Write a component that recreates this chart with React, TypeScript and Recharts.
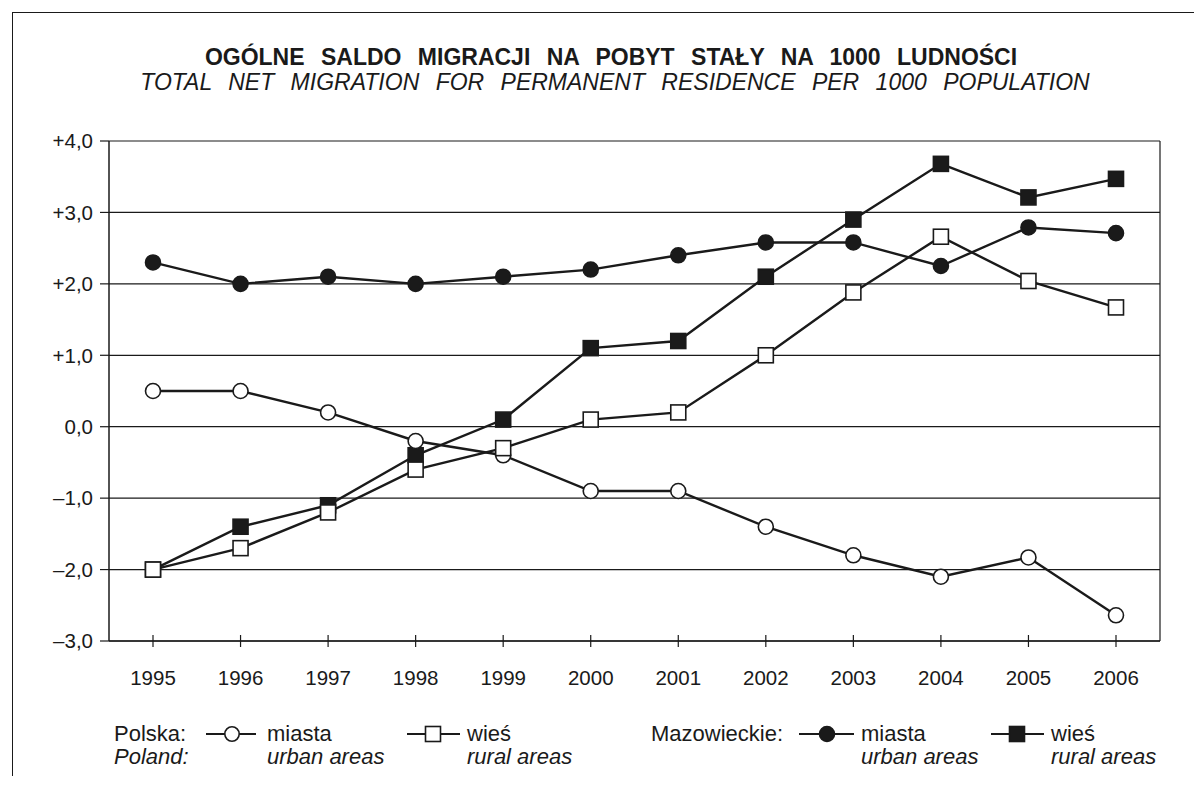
import React from "react"
import {
  LineChart,
  Line,
  XAxis,
  YAxis,
  CartesianGrid
} from "recharts"

const years = ["1995", "1996", "1997", "1998", "1999", "2000", "2001", "2002", "2003", "2004", "2005", "2006"]

// Polska
const polskaMiasta = [0.5, 0.5, 0.2, -0.2, -0.4, -0.9, -0.9, -1.4, -1.8, -2.1, -1.83, -2.64]
const polskaWies = [-2.0, -1.7, -1.2, -0.6, -0.3, 0.1, 0.2, 1.0, 1.88, 2.66, 2.04, 1.67]

// Mazowieckie
const mazMiasta = [2.3, 2.0, 2.1, 2.0, 2.1, 2.2, 2.4, 2.58, 2.58, 2.25, 2.79, 2.71]
const mazWies = [-2.0, -1.4, -1.1, -0.4, 0.1, 1.1, 1.2, 2.1, 2.9, 3.68, 3.21, 3.47]

const yTicks = [-3, -2, -1, 0, 1, 2, 3, 4]

const FONT = "'Liberation Sans', Arial, sans-serif"
const INK = "#1a1a1a"

const data = years.map((year, i) => ({
  year,
  polskaMiasta: polskaMiasta[i],
  polskaWies: polskaWies[i],
  mazMiasta: mazMiasta[i],
  mazWies: mazWies[i],
}))

function fmtY(v: number) {
  const s = Math.abs(v).toFixed(1).replace(".", ",")
  if (v > 0) return "+" + s
  if (v < 0) return "\u2013" + s
  return s
}

function CircleDot(props: any) {
  const { cx, cy, fill } = props
  if (cx == null || cy == null) return null
  return <circle cx={cx} cy={cy} r={7.5} fill={fill} stroke={INK} strokeWidth={1.6} />
}

function SquareDot(props: any) {
  const { cx, cy, fill } = props
  if (cx == null || cy == null) return null
  return <rect x={cx - 7.5} y={cy - 7.5} width={15} height={15} fill={fill} stroke={INK} strokeWidth={1.6} />
}

function XTick(props: any) {
  const { x, y, payload } = props
  return (
    <g>
      <line x1={x} x2={x} y1={y - 6} y2={y + 6} stroke={INK} strokeWidth={1.2} />
      <text x={x} y={y + 44} textAnchor="middle" fontSize={20.5} fontFamily={FONT} fill={INK}>
        {payload.value}
      </text>
    </g>
  )
}

function LegendBlock() {
  const t = { fontFamily: FONT, fontSize: 22, fill: INK }
  const it = { ...t, fontStyle: "italic" as const }
  return (
    <svg width={1194} height={70} style={{ display: "block" }}>
      <text x={114} y={26} {...t}>Polska:</text>
      <text x={114} y={49} {...it}>Poland:</text>

      <line x1={206} x2={256} y1={19} y2={19} stroke={INK} strokeWidth={2} />
      <circle cx={232} cy={19} r={7.2} fill="#fff" stroke={INK} strokeWidth={1.6} />
      <text x={267} y={26} {...t}>miasta</text>
      <text x={267} y={49} {...it}>urban areas</text>

      <line x1={407} x2={460} y1={19} y2={19} stroke={INK} strokeWidth={2} />
      <rect x={425.5} y={11.5} width={15} height={15} fill="#fff" stroke={INK} strokeWidth={1.6} />
      <text x={467} y={26} {...t}>wieś</text>
      <text x={467} y={49} {...it}>rural areas</text>

      <text x={651} y={26} {...t}>Mazowieckie:</text>

      <line x1={799} x2={854} y1={19} y2={19} stroke={INK} strokeWidth={2} />
      <circle cx={827} cy={19} r={7.5} fill={INK} stroke={INK} strokeWidth={1.6} />
      <text x={861} y={26} {...t}>miasta</text>
      <text x={861} y={49} {...it}>urban areas</text>

      <line x1={991} x2={1044} y1={19} y2={19} stroke={INK} strokeWidth={2} />
      <rect x={1009.5} y={11.5} width={15} height={15} fill={INK} stroke={INK} strokeWidth={1.6} />
      <text x={1051} y={26} {...t}>wieś</text>
      <text x={1051} y={49} {...it}>rural areas</text>
    </svg>
  )
}

export default function App() {
  return (
    <div style={{ position: "absolute", left: 0, top: 0, width: 1194, height: 789, background: "#fff", overflow: "hidden" }}>
      <div
        style={{
          position: "absolute",
          left: 12,
          top: 12,
          width: 1200,
          height: 763,
          borderTop: `1.5px solid ${INK}`,
          borderLeft: `1.5px solid ${INK}`,
        }}
      />
      <svg width={1194} height={110} style={{ position: "absolute", left: 0, top: 0 }}>
        <text x={611} y={65} textAnchor="middle" fontFamily={FONT} fontWeight="bold" fontSize={23} wordSpacing={10} fill={INK}>
          OGÓLNE SALDO MIGRACJI NA POBYT STAŁY NA 1000 LUDNOŚCI
        </text>
        <text x={615} y={90} textAnchor="middle" fontFamily={FONT} fontStyle="italic" fontSize={23} wordSpacing={10} fill={INK}>
          TOTAL NET MIGRATION FOR PERMANENT RESIDENCE PER 1000 POPULATION
        </text>
      </svg>

      <div style={{ position: "absolute", left: 0, top: 0 }}>
        <LineChart
          width={1194}
          height={789}
          data={data}
          margin={{ top: 141, right: 34, bottom: 108, left: 49 }}
        >
          <CartesianGrid
            stroke={INK}
            strokeWidth={1.2}
            vertical={true}
            verticalCoordinatesGenerator={(p: any) => [p.offset.left + p.offset.width]}
          />
          <XAxis
            dataKey="year"
            height={40}
            padding={{ left: 44, right: 44 }}
            tickSize={0}
            tickMargin={0}
            tickLine={false}
            axisLine={{ stroke: INK, strokeWidth: 1.5 }}
            tick={<XTick />}
            interval={0}
          />
          <YAxis
            width={60}
            domain={[-3, 4]}
            ticks={yTicks}
            tickFormatter={fmtY}
            tickSize={9}
            tickMargin={7}
            axisLine={{ stroke: INK, strokeWidth: 1.5 }}
            tickLine={{ stroke: INK, strokeWidth: 1.2 }}
            tick={{ fill: INK, fontSize: 20.5, fontFamily: FONT }}
            allowDataOverflow
          />
          <Line
            dataKey="mazWies"
            stroke={INK}
            strokeWidth={2.4}
            dot={<SquareDot fill={INK} />}
            activeDot={false}
            isAnimationActive={false}
          />
          <Line
            dataKey="polskaMiasta"
            stroke={INK}
            strokeWidth={2.4}
            dot={<CircleDot fill="#fff" />}
            activeDot={false}
            isAnimationActive={false}
          />
          <Line
            dataKey="polskaWies"
            stroke={INK}
            strokeWidth={2.4}
            dot={<SquareDot fill="#fff" />}
            activeDot={false}
            isAnimationActive={false}
          />
          <Line
            dataKey="mazMiasta"
            stroke={INK}
            strokeWidth={2.4}
            dot={<CircleDot fill={INK} />}
            activeDot={false}
            isAnimationActive={false}
          />
        </LineChart>
      </div>

      <div style={{ position: "absolute", left: 0, top: 715 }}>
        <LegendBlock />
      </div>
    </div>
  )
}
